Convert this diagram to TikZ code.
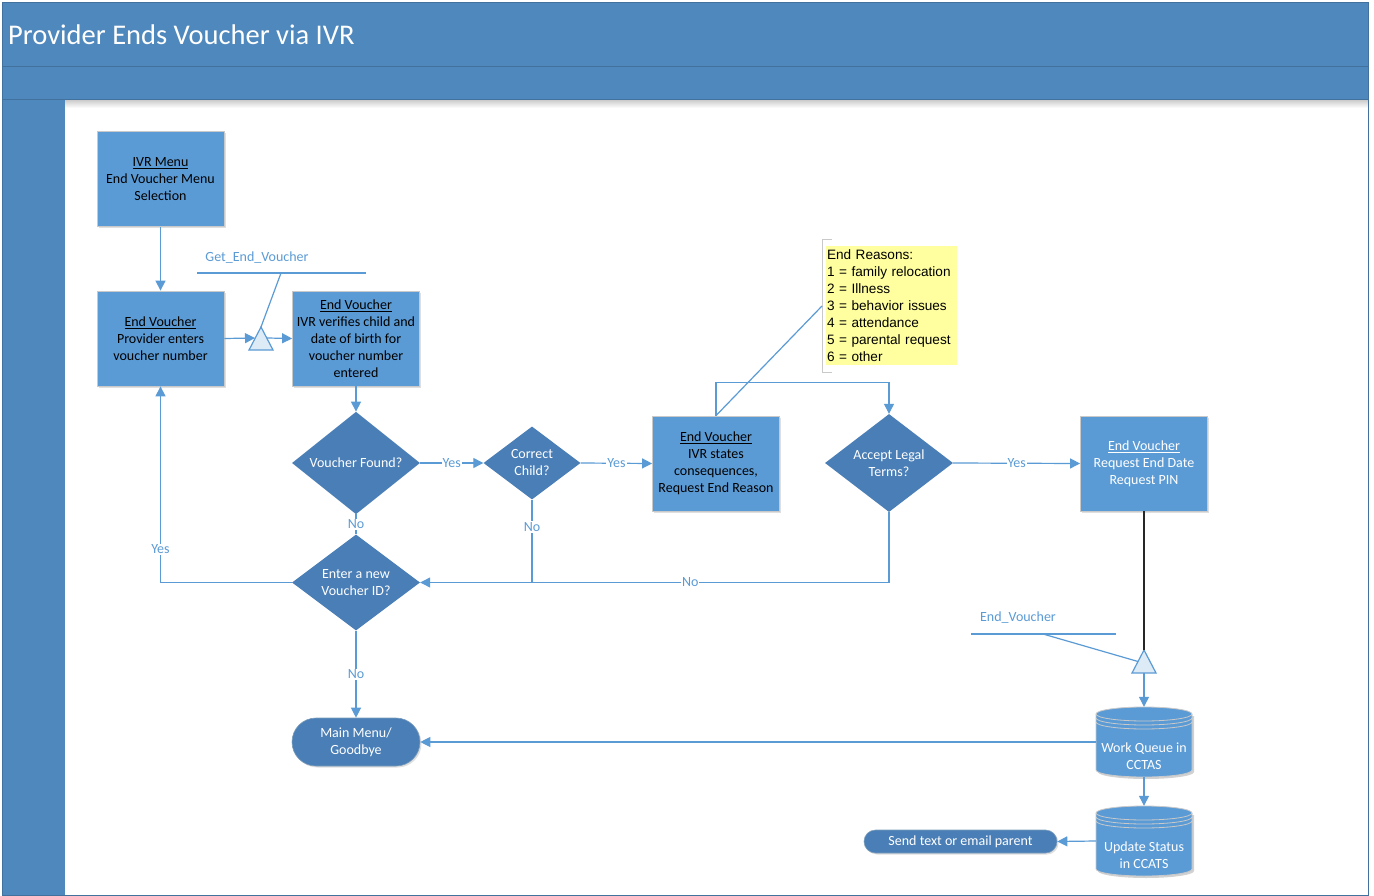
\documentclass[tikz,border=0pt]{standalone}
\usepackage{fontspec}
\setmainfont{Carlito}
\newfontfamily\notefont{Liberation Sans}
\usetikzlibrary{arrows.meta,shapes.geometric,shadows}

\definecolor{band}{HTML}{4F88BD}
\definecolor{bandline}{HTML}{41719C}
\definecolor{boxfill}{HTML}{5B9BD5}
\definecolor{decfill}{HTML}{4A7EB6}
\definecolor{wire}{HTML}{5B9BD5}
\definecolor{trifill}{HTML}{DDEBF7}
\definecolor{notefill}{HTML}{FFFFA0}
\definecolor{rim}{HTML}{C9C9C9}

% database cylinder drawn around a centre point
\newcommand\dbdraw[2]{%
  \fill[black,opacity=0.18] ({#1-46},{#2-26}) -- ({#1-46},{#2+30})
    arc[start angle=180,end angle=360,x radius=48pt,y radius=7pt] -- ({#1+50},{#2-26}) -- cycle;
  \filldraw[fill=boxfill,draw=rim,line width=0.8pt] ({#1-48},{#2-28}) -- ({#1-48},{#2+28})
    arc[start angle=180,end angle=360,x radius=48pt,y radius=7pt] -- ({#1+48},{#2-28})
    arc[start angle=0,end angle=180,x radius=48pt,y radius=7pt] -- cycle;
  \foreach \dd in {0,4,8}{
    \draw[rim,line width=0.8pt] ({#1-48},{#2-28+\dd})
      arc[start angle=180,end angle=360,x radius=48pt,y radius=7pt];}%
}

\begin{document}
\begin{tikzpicture}[x=1pt,y=-1pt,
  every node/.style={font=\fontsize{14}{17}\selectfont, align=center, inner sep=0pt},
  procbox/.style={rectangle, fill=boxfill, draw=rim, line width=0.8pt,
    minimum width=127pt, minimum height=95pt,
    drop shadow={shadow xshift=1.5pt, shadow yshift=-1.5pt, opacity=0.25}},
  decision/.style={diamond, fill=decfill, text=white,
    minimum width=128pt, minimum height=96pt},
  terminal/.style={rectangle, fill=decfill, draw=bandline!70, line width=0.6pt, text=white,
    drop shadow={shadow xshift=1.5pt, shadow yshift=-1.5pt, opacity=0.25}},
  dbnode/.style={rectangle, minimum width=96pt, minimum height=70pt},
  wirestyle/.style={draw=wire, line width=1.2pt},
  flow/.style={wirestyle, -{Triangle[length=10pt,width=10pt]}},
  lbl/.style={fill=white, text=wire, font=\fontsize{14}{16}\selectfont, inner sep=1pt},
  tagtext/.style={text=wire, font=\fontsize{14}{16}\selectfont},
  tri/.style={fill=trifill, draw=wire, line width=1.2pt, line join=miter}
]
\useasboundingbox (0,0) rectangle (1374,896);

% swimlane frame
\fill[band] (2,3) rectangle (1368,895);
\fill[white] (65,100) rectangle (1368,895);
\shade[top color=black!20, bottom color=white] (65,100) rectangle (1368,108);
\draw[bandline, line width=1pt] (2,67) -- (1368,67);
\draw[bandline, line width=1pt] (2,100) -- (1368,100);
\draw[bandline, line width=1pt] (2,3) rectangle (1368,895);
\node[anchor=base west, text=white, font=\fontsize{28.5}{30}\selectfont] (title) at (8,45) {Provider Ends Voucher via IVR};

% process steps
\node[procbox] (menu) at (160.5,179) {\underline{IVR Menu}\\End Voucher Menu\\Selection};
\node[procbox] (ev1) at (160.5,338.5) {\underline{End Voucher}\\Provider enters\\voucher number};
\node[procbox] (ev2) at (356,338.5) {\underline{End Voucher}\\IVR verifies child and\\date of birth for\\voucher number\\entered};
\node[decision] (found) at (356,463) {Voucher Found?};
\node[decision, minimum width=97pt, minimum height=73pt] (child) at (532,463) {Correct\\Child?};
\node[procbox] (ev3) at (716,463.5) {\underline{End Voucher}\\IVR states\\consequences,\\Request End Reason};
\node[decision] (legal) at (889,463) {Accept Legal\\Terms?};
\node[procbox, text=white] (ev4) at (1144,463.5) {\underline{End Voucher}\\Request End Date\\Request PIN};
\node[decision] (again) at (356,582.5) {Enter a new\\Voucher ID?};
\node[terminal, minimum width=128pt, minimum height=48pt, rounded corners=24pt] (bye) at (356,742) {Main Menu/\\Goodbye};
\node[terminal, minimum width=193pt, minimum height=23pt, rounded corners=11.5pt] (notify) at (960.5,841.5) {Send text or email parent};

% data stores
\dbdraw{1144}{742}
\dbdraw{1144}{841}
\node[dbnode] (wq) at (1144,742) {};
\node[dbnode] (us) at (1144,841) {};
\node[text=white] (wqtext) at (1144,756.5) {Work Queue in\\CCTAS};
\node[text=white] (ustext) at (1144,855.5) {Update Status\\in CCATS};

% end-reason annotation
\node[fill=notefill, minimum width=131pt, minimum height=119pt, text width=129pt, align=left,
  font=\notefont\fontsize{13.6}{17}\selectfont] (note) at (891.5,305.5)
  {End Reasons:\\1 = family relocation\\2 = Illness\\3 = behavior issues\\4 = attendance\\5 = parental request\\6 = other};
\draw[rim, line width=1pt] (832,240) -- (822,240) -- (822,372) -- (832,372);
\coordinate (notehook) at (822,306);
\draw[wirestyle] (ev3.north) -- (notehook);

% off-page reference triangles
\draw[tri] (261,327) -- (273,350) -- (249,350) -- cycle;
\coordinate (t1apex) at (261,327);
\coordinate (t1w) at (255,338);
\coordinate (t1e) at (267,338);
\node[tagtext] (gettag) at (257,258) {Get\_End\_Voucher};
\coordinate (g1a) at (197,273);
\coordinate (g1b) at (366,273);
\coordinate (g1k) at (281,273);
\draw[wirestyle] (g1a) -- (g1b);
\draw[wirestyle] (g1k) -- (t1apex);

\draw[tri] (1144,650) -- (1156,673) -- (1132,673) -- cycle;
\coordinate (t2apex) at (1144,650);
\coordinate (t2s) at (1144,673);
\coordinate (t2w) at (1138,661.5);
\node[tagtext] (endtag) at (1018,618) {End\_Voucher};
\coordinate (g2a) at (971,634);
\coordinate (g2b) at (1116,634);
\coordinate (g2k) at (1043,634);
\draw[wirestyle] (g2a) -- (g2b);
\draw[wirestyle] (g2k) -- (t2w);

% connectors
\draw[flow] (menu.south) -- (ev1.north);
\draw[flow] (ev1.east) -- (t1w);
\draw[flow] (t1e) -- (ev2.west);
\draw[flow] (ev2.south) -- (found.north);
\draw[flow] (found.east) -- node[lbl] {Yes} (child.west);
\draw[flow] (child.east) -- node[lbl] {Yes} (ev3.west);
\draw[flow] (ev3.north) -- ++(0,-33) -| (legal.north);
\draw[flow] (legal.east) -- node[lbl] {Yes} (ev4.west);
\draw[flow] (legal.south) |- node[lbl, pos=0.712] {No} (again.east);
\coordinate (childjoin) at (child.south |- again.east);
\draw[wirestyle] (child.south) -- node[lbl, pos=0.33] {No} (childjoin);
\draw[wirestyle] (found.south) -- node[lbl] {No} (again.north);
\draw[flow] (again.west) -| node[lbl, pos=0.584] {Yes} (ev1.south);
\draw[flow] (again.south) -- node[lbl] {No} (bye.north);
\draw[black!85, line width=1.2pt] (ev4.south) -- (t2apex);
\draw[flow] (t2s) -- (wq.north);
\draw[flow] (wq.south) -- (us.north);
\draw[flow] (wq.west) -- (bye.east);
\draw[flow] (us.west) -- (notify.east);
\end{tikzpicture}
\end{document}
